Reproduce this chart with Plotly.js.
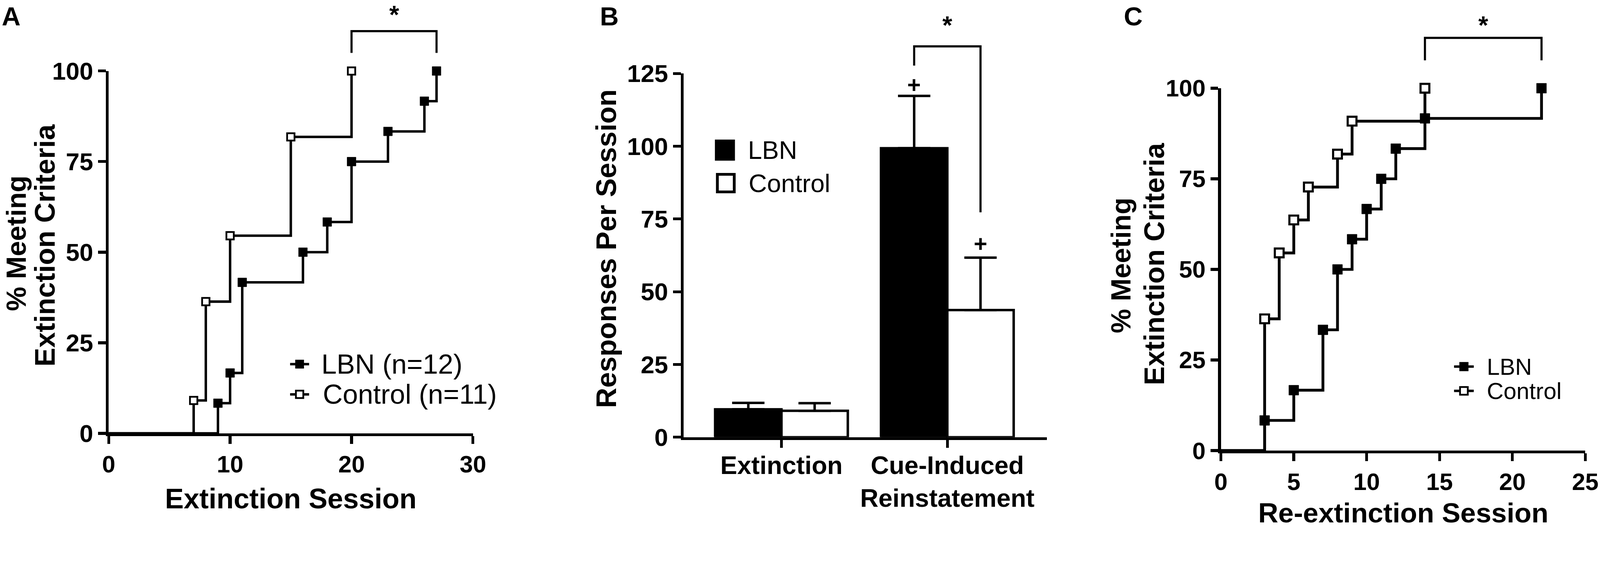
<!DOCTYPE html>
<html>
<head>
<meta charset="utf-8">
<script src="https://cdn.plot.ly/plotly-3.0.1.min.js"></script>
<style>html,body{margin:0;padding:0;background:#fff;overflow:hidden;}</style>
</head>
<body>
<div id="chart" style="width:4550px;height:1506px;transform-origin:0 0;"></div>
<script>
// ---------------- Data ----------------
// Panel A: cumulative % meeting extinction criteria per extinction session
const aLbnSessions  = [9, 10, 11, 16, 18, 20, 23, 26, 27];
const aLbnPct       = [8.33, 16.67, 41.67, 50, 58.33, 75, 83.33, 91.67, 100];
const aCtrlSessions = [7, 8, 10, 15, 20];
const aCtrlPct      = [9.09, 36.36, 54.55, 81.82, 100];
const aXTicks = [0, 10, 20, 30];
const aYTicks = [0, 25, 50, 75, 100];

// Panel B: responses per session (mean + SEM)
const bCategories = ['Extinction', 'Cue-Induced<br>Reinstatement'];
const bLbnMean  = [9.6, 99.3];
const bLbnSem   = [2.2, 18.0];
const bCtrlMean = [9.1, 43.7];
const bCtrlSem  = [2.6, 18.0];
const bSemBelow = [0, 0];
const bYTicks = [0, 25, 50, 75, 100, 125];

// Panel C: cumulative % meeting criteria per re-extinction session
const cLbnSessions  = [3, 5, 7, 8, 9, 10, 11, 12, 14, 22];
const cLbnPct       = [8.33, 16.67, 33.33, 50, 58.33, 66.67, 75, 83.33, 91.67, 100];
const cCtrlSessions = [3, 4, 5, 6, 8, 9, 14];
const cCtrlPct      = [36.36, 54.55, 63.64, 72.73, 81.82, 90.91, 100];
const cXTicks = [0, 5, 10, 15, 20, 25];
const cYTicks = [0, 25, 50, 75, 100];

// ---------------- Layout helpers ----------------
const W = 4550, H = 1506;
const FONT = 'Liberation Sans, Arial, Helvetica, sans-serif';
const px = v => v / W;
const py = v => 1 - v / H;

// fit the 4550x1506 drawing into the actual viewport
(function fit() {
  const vw = window.innerWidth || document.documentElement.clientWidth || W;
  const vh = window.innerHeight || document.documentElement.clientHeight || H;
  const s = Math.min(vw / W, vh / H);
  if (Math.abs(s - 1) > 0.002) {
    document.getElementById('chart').style.transform = 'scale(' + s + ')';
  }
})();

const domA = {x: [px(309), px(1345)], y: [py(1233), py(202)]};
const domB = {x: [px(1944), px(2977)], y: [py(1244), py(209)]};
const domC = {x: [px(3472), px(4508)], y: [py(1282), py(251)]};
const rangeA = {x: [0, 30], y: [0, 100]};
const rangeB = {x: [-0.59, 1.6], y: [0, 125]};
const rangeC = {x: [0, 25], y: [0, 100]};
const BARGAP = 0.2;

function yp(dom, range, v) {
  return dom.y[0] + (v - range.y[0]) / (range.y[1] - range.y[0]) * (dom.y[1] - dom.y[0]);
}

function axis(extra, fs) {
  return Object.assign({
    showgrid: false, zeroline: false, showline: true,
    linecolor: '#000', linewidth: 8,
    ticks: 'outside', ticklen: 22, tickwidth: 8, tickcolor: '#000',
    tickfont: {family: FONT, size: fs, color: '#000', weight: 'bold'},
    fixedrange: true
  }, extra);
}

// ---------------- Traces ----------------
const traces = [];
function stepTraces(xs, ys, xa, ya, filled, size, lw, mlw) {
  traces.push({
    x: [0].concat(xs), y: [0].concat(ys), mode: 'lines',
    line: {shape: 'hv', color: '#000', width: lw},
    xaxis: xa, yaxis: ya, showlegend: false, hoverinfo: 'skip'
  });
  traces.push({
    x: xs, y: ys, mode: 'markers', cliponaxis: false,
    marker: filled
      ? {symbol: 'square', size: size, color: '#000', line: {color: '#000', width: 1}}
      : {symbol: 'square', size: size, color: '#fff', line: {color: '#000', width: mlw}},
    xaxis: xa, yaxis: ya, showlegend: false
  });
}
// Panel A
stepTraces(aCtrlSessions, aCtrlPct, 'x', 'y', false, 21, 7, 5);
stepTraces(aLbnSessions, aLbnPct, 'x', 'y', true, 25, 7, 0);
// Panel C
stepTraces(cCtrlSessions, cCtrlPct, 'x3', 'y3', false, 25, 8, 6);
stepTraces(cLbnSessions, cLbnPct, 'x3', 'y3', true, 28, 8, 0);
// Panel B bars
traces.push({
  type: 'bar', x: bCategories, y: bLbnMean, name: 'LBN',
  marker: {color: '#000', line: {color: '#000', width: 7}},
  error_y: {type: 'data', symmetric: false, array: bLbnSem, arrayminus: bSemBelow,
            color: '#000', thickness: 7, width: 46},
  xaxis: 'x2', yaxis: 'y2', showlegend: false
});
traces.push({
  type: 'bar', x: bCategories, y: bCtrlMean, name: 'Control',
  marker: {color: '#fff', line: {color: '#000', width: 7}},
  error_y: {type: 'data', symmetric: false, array: bCtrlSem, arrayminus: bSemBelow,
            color: '#000', thickness: 7, width: 46},
  xaxis: 'x2', yaxis: 'y2', showlegend: false
});

// ---------------- Shapes (brackets + legend keys) ----------------
const shapes = [];
function bracket(xref, x0, x1, yLeft, yRight, yTop, dom, range) {
  const a = yp(dom, range, yLeft), b = yp(dom, range, yRight), t = yp(dom, range, yTop);
  shapes.push({type: 'path', xref: xref, yref: 'paper',
    path: `M${x0},${a} L${x0},${t} L${x1},${t} L${x1},${b}`,
    line: {color: '#000', width: 6}});
}
const lastA = [aCtrlSessions[aCtrlSessions.length - 1], aLbnSessions[aLbnSessions.length - 1]];
const lastC = [cCtrlSessions[cCtrlSessions.length - 1], cLbnSessions[cLbnSessions.length - 1]];
const barOff = (1 - BARGAP) / 4;
const bLbnX = 1 - barOff, bCtrlX = 1 + barOff;
bracket('x', lastA[0], lastA[1], 105, 105, 111, domA, rangeA);
bracket('x2', bLbnX, bCtrlX, 127.7, 77.3, 134.3, domB, rangeB);
bracket('x3', lastC[0], lastC[1], 107.7, 107.7, 113.9, domC, rangeC);

function legendLineKey(xL, xR, yc, filled, s, mlw, lw) {
  shapes.push({type: 'line', xref: 'paper', yref: 'paper', x0: px(xL), x1: px(xR), y0: py(yc), y1: py(yc),
    line: {color: '#000', width: lw}});
  const xc = (xL + xR) / 2;
  shapes.push({type: 'rect', xref: 'paper', yref: 'paper',
    x0: px(xc - s / 2), x1: px(xc + s / 2), y0: py(yc + s / 2), y1: py(yc - s / 2),
    fillcolor: filled ? '#000' : '#fff', line: {color: '#000', width: filled ? 0 : mlw}});
}
legendLineKey(825, 879, 1036, true, 25, 0, 7);
legendLineKey(825, 879, 1122, false, 21, 5, 7);
legendLineKey(4135, 4191, 1043, true, 26, 0, 7);
legendLineKey(4135, 4191, 1112, false, 22, 5, 7);
// Bar legend swatches
shapes.push({type: 'rect', xref: 'paper', yref: 'paper', x0: px(2033), x1: px(2090), y0: py(457), y1: py(397),
  fillcolor: '#000', line: {color: '#000', width: 0}});
shapes.push({type: 'rect', xref: 'paper', yref: 'paper', x0: px(2040), x1: px(2088), y0: py(546), y1: py(496),
  fillcolor: '#fff', line: {color: '#000', width: 8}});

// ---------------- Annotations ----------------
const annotations = [];
function txt(text, x, y, size, bold, opts) {
  annotations.push(Object.assign({
    text: text, x: x, y: y, xref: 'paper', yref: 'paper', showarrow: false,
    xanchor: 'center', yanchor: 'middle',
    font: {family: FONT, size: size, color: '#000', weight: bold ? 'bold' : 'normal'}
  }, opts || {}));
}
// Panel letters
txt('A', px(31), py(3), 74, true, {yanchor: 'top'});
txt('B', px(1732), py(3), 74, true, {yanchor: 'top'});
txt('C', px(3222), py(3), 74, true, {yanchor: 'top'});
// Axis titles
txt('Extinction Session', px(827), py(1418), 80, true);
txt('Re-extinction Session', px(3990), py(1458), 79, true);
txt('% Meeting', px(46), py(692), 78, true, {textangle: -90});
txt('Extinction Criteria', px(127), py(698), 80, true, {textangle: -90});
txt('Responses Per Session', px(1724), py(708), 80, true, {textangle: -90});
txt('% Meeting', px(3188), py(755), 78, true, {textangle: -90});
txt('Extinction Criteria', px(3282), py(751), 80, true, {textangle: -90});
// Legends
txt('LBN (n=12)', px(912), py(1036), 78, false, {xanchor: 'left'});
txt('Control (n=11)', px(916), py(1122), 78, false, {xanchor: 'left'});
txt('LBN', px(2125), py(427), 72, false, {xanchor: 'left'});
txt('Control', px(2127), py(521), 72, false, {xanchor: 'left'});
txt('LBN', px(4226), py(1043), 66, false, {xanchor: 'left'});
txt('Control', px(4226), py(1112), 66, false, {xanchor: 'left'});
// Significance marks
function mark(text, xref, x, y, size) {
  annotations.push({text: text, xref: xref, yref: 'paper', x: x, y: y,
    xanchor: 'center', yanchor: 'middle', showarrow: false,
    font: {family: FONT, size: size, color: '#000', weight: 'bold'}});
}
mark('*', 'x', (lastA[0] + lastA[1]) / 2, yp(domA, rangeA, 115.5), 72);
mark('*', 'x2', 1, yp(domB, rangeB, 141.6), 72);
mark('*', 'x3', (lastC[0] + lastC[1]) / 2, yp(domC, rangeC, 117.4), 72);
mark('+', 'x2', bLbnX, yp(domB, rangeB, 121.1), 66);
mark('+', 'x2', bCtrlX, yp(domB, rangeB, 66.5), 66);

// ---------------- Layout ----------------
const layout = {
  width: W, height: H,
  margin: {l: 0, r: 0, t: 0, b: 0},
  paper_bgcolor: '#fff', plot_bgcolor: 'rgba(0,0,0,0)',
  showlegend: false,
  barmode: 'group', bargap: BARGAP, bargroupgap: 0,
  font: {family: FONT, color: '#000'},
  xaxis:  axis({domain: domA.x, range: rangeA.x, tickmode: 'array', tickvals: aXTicks, anchor: 'y'}, 68),
  yaxis:  axis({domain: domA.y, range: rangeA.y, tickmode: 'array', tickvals: aYTicks, anchor: 'x'}, 70),
  xaxis2: axis({domain: domB.x, range: rangeB.x, type: 'category', anchor: 'y2', ticklabelstandoff: -12}, 72),
  yaxis2: axis({domain: domB.y, range: rangeB.y, tickmode: 'array', tickvals: bYTicks, anchor: 'x2'}, 70),
  xaxis3: axis({domain: domC.x, range: rangeC.x, tickmode: 'array', tickvals: cXTicks, anchor: 'y3'}, 68),
  yaxis3: axis({domain: domC.y, range: rangeC.y, tickmode: 'array', tickvals: cYTicks, anchor: 'x3'}, 68),
  shapes: shapes,
  annotations: annotations
};

Plotly.newPlot('chart', traces, layout, {staticPlot: true, displayModeBar: false});
</script>
</body>
</html>
